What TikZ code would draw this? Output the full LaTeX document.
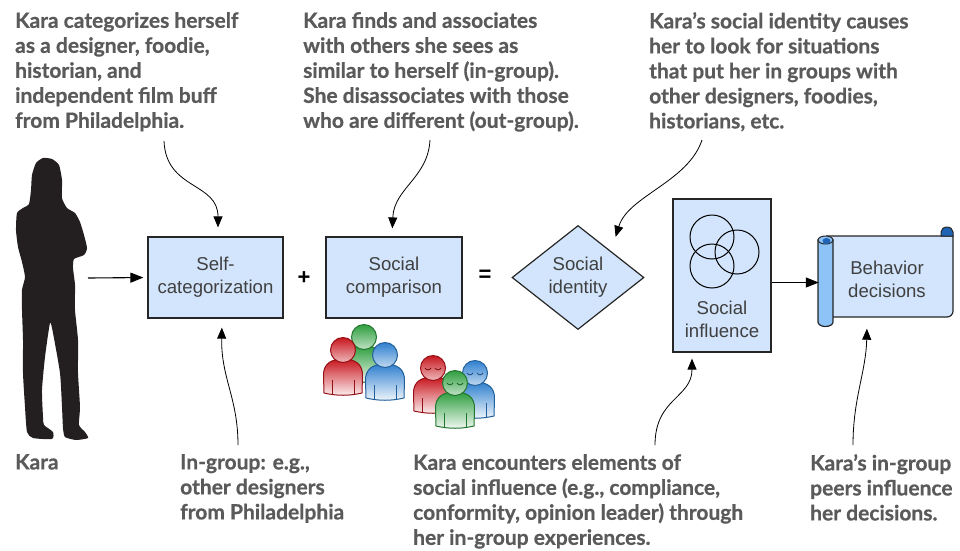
\documentclass[tikz,border=0pt]{standalone}
\usepackage{fontspec}
\setmainfont{Liberation Sans}
\newfontfamily\notefont{Lato}[BoldFeatures={FakeBold=0.7}]
\usetikzlibrary{positioning, arrows.meta, shapes.geometric}

\definecolor{boxblue}{HTML}{D2E5FC}
\definecolor{notegray}{HTML}{5A5A5A}
\definecolor{boxtext}{HTML}{404040}
\definecolor{rollblue}{HTML}{8DC3F7}
\definecolor{curlblue}{HTML}{1F64B4}
\definecolor{grpred}{HTML}{C8161E}
\definecolor{grpgreen}{HTML}{2E9E3E}
\definecolor{grpblue}{HTML}{2F80CF}
\definecolor{shadow}{HTML}{231F20}

\tikzset{
  box/.style={draw=black!85, line width=1.2pt, fill=boxblue, text=boxtext,
    align=center, inner sep=0pt, font=\fontsize{18.6}{23}\selectfont},
  boxlabel/.style={text=boxtext, align=center, inner sep=0pt,
    font=\fontsize{18.6}{23}\selectfont},
  sign/.style={inner sep=0pt, font=\bfseries\fontsize{22}{22}\selectfont},
  note/.style={anchor=north west, inner sep=0pt, align=left, text=notegray,
    font=\notefont\bfseries\fontsize{21}{25}\selectfont},
  pointer/.style={-{Triangle[length=11pt,width=9pt]}, line width=0.8pt},
  flow/.style={-{Triangle[length=13pt,width=10pt]}, line width=1.1pt},
  pics/person/.style={code={
    \path[draw=#1!75!black, line width=1pt, top color=#1, bottom color=#1!6]
      (-19,43) -- (-19.5,26) .. controls (-20,14) and (-12,9) .. (0,9)
      .. controls (12,9) and (20,14) .. (19.5,26) -- (19,43)
      .. controls (6,46) and (-6,46) .. (-19,43) -- cycle;
    \draw[#1!75!black, line width=0.9pt] (-11,30) -- (-11,44) (11,30) -- (11,44);
    \path[draw=#1!75!black, line width=1pt, top color=#1, bottom color=#1!30]
      (0,0) circle (12.5);
  }},
  pics/dozing/.style={code={
    \pic {person=#1};
    \draw[#1!60!black, line width=0.8pt]
      (-8,0) .. controls (-6,2.5) and (-4,2.5) .. (-2,0)
      (2,0) .. controls (4,2.5) and (6,2.5) .. (8,0);
  }}
}

\begin{document}
\begin{tikzpicture}[x=1pt, y=-1pt, on grid]
  \useasboundingbox (0,0) rectangle (960,550);

  % notes around the chain
  \node[note] (cat note) at (15,12) {Kara categorizes herself\\as a designer, foodie,\\historian, and\\independent film buff\\from Philadelphia.};
  \node[note] (cmp note) at (303,12) {Kara finds and associates\\with others she sees as\\similar to herself (in-group).\\She disassociates with those\\who are different (out-group).};
  \node[note] (id note) at (649,12) {Kara’s social identity causes\\her to look for situations\\that put her in groups with\\other designers, foodies,\\historians, etc.};
  \node[note] (kara note) at (15,454) {Kara};
  \node[note] (grp note) at (180,454) {In-group: e.g.,\\other designers\\from Philadelphia};
  \node[note] (inf note) at (413,454) {Kara encounters elements of\\social influence (e.g., compliance,\\conformity, opinion leader) through\\her in-group experiences.};
  \node[note] (peer note) at (810,454) {Kara’s in-group\\peers influence\\her decisions.};

  % Kara
  \fill[shadow] plot[smooth cycle, tension=0.35] coordinates {
    (43,158) (52,159) (59,165) (62,180) (62,198) (67,208) (75,213) (80,222)
    (84,235) (87,248) (84,255) (74,259) (73,268) (75,285) (75,310) (78,340)
    (78,373) (80,407) (79,425) (85,432) (88,438) (76,440) (65,437) (63,428)
    (62,407) (60,373) (53,333) (50,323) (45,357) (42,390) (43,417) (44,425)
    (53,432) (52,439) (33,438) (27,432) (25,407) (23,373) (23,340) (22,310)
    (22,290) (25,277) (22,262) (18,247) (16,230) (17,213) (23,208) (29,204)
    (31,190) (32,175) (36,163)};
  \coordinate (kara) at (88,278);

  % the chain
  \node[box, minimum width=135pt, minimum height=81pt] (selfcat) at (215.5,277.5) {Self-\\categorization};
  \node[box, minimum width=136pt, minimum height=81pt, right=178.5pt of selfcat] (compare) {Social\\comparison};
  \node[box, shape=diamond, aspect=1.27, minimum width=132pt, minimum height=104pt, right=184pt of compare] (identity) {Social\\identity};
  \node[box, minimum width=98pt, minimum height=153pt] (influence) at (722,275.5) {};
  \node[boxlabel] (influence text) at ([yshift=33pt]influence.south) {Social\\influence};
  \node[sign] (plus) at (304,278) {+};
  \node[sign] (equals) at (485,276) {=};

  \foreach \dx/\dy in {-10/-38.5, 15/-23.5, -10/-9.5}
    \draw[line width=1pt] ([shift={(\dx,\dy)}]influence.center) circle (22);

  % scroll
  \draw[draw=black!85, line width=1.2pt, fill=boxblue]
    (826,236) -- (953,236) -- (953,311) arc[start angle=0, end angle=90, radius=6]
    -- (830,317);
  \draw[draw=black!85, line width=1pt, fill=curlblue]
    (941,236) -- (941,232) arc[start angle=180, end angle=360, x radius=6, y radius=5] -- (953,236) -- cycle;
  \draw[draw=black!85, line width=1.2pt, fill=rollblue]
    (818,240) -- (818,322) arc[start angle=180, end angle=0, x radius=7.5, y radius=4.5] -- (833,240) -- cycle;
  \draw[draw=black!85, line width=1pt, fill=rollblue] (825.5,240) ellipse[x radius=7.5, y radius=4];
  \fill[curlblue] (826.5,241) ellipse[x radius=4, y radius=3];
  \node[boxlabel, minimum width=136pt, minimum height=91pt] (decide) at (887,279) {Behavior\\decisions};

  % groups
  \pic at (364,337) {person=grpgreen};
  \pic at (343,350) {person=grpred};
  \pic at (385,355) {person=grpblue};
  \pic at (433,368) {dozing=grpred};
  \pic at (475,373) {dozing=grpblue};
  \pic at (455,383) {dozing=grpgreen};

  % connectors
  \coordinate (cat end) at (164,141);
  \coordinate (cmp end) at (430,140);
  \coordinate (id end) at (702,140);
  \coordinate (grp end) at (238,445);
  \coordinate (inf end) at (655,445);
  \coordinate (peer end) at (853,445);

  \draw[flow, shorten >=4pt] (kara) -- (selfcat.west);
  \draw[flow] ([yshift=-7pt]influence.east) -- ([yshift=-7pt]influence.east -| decide.west);

  \draw[pointer, shorten >=9pt] (cat end) .. controls (166,190) and (218,182) .. ([xshift=2.5pt]selfcat.north);
  \draw[pointer, shorten >=8pt] (cmp end) .. controls (428,178) and (394,188) .. ([xshift=-2pt]compare.north);
  \draw[pointer, shorten >=15pt] (id end) .. controls (688,182) and (628,196) .. (identity.north east);
  \draw[pointer, shorten >=9pt] (grp end) .. controls (238,398) and (221,378) .. ([xshift=6.5pt]selfcat.south);
  \draw[pointer, shorten >=6pt] (inf end) .. controls (655,398) and (692,398) .. ([xshift=-30pt]influence.south);
  \draw[pointer, shorten >=4pt] (peer end) .. controls (853,398) and (866,372) .. ([xshift=-20pt]decide.south);
\end{tikzpicture}
\end{document}
